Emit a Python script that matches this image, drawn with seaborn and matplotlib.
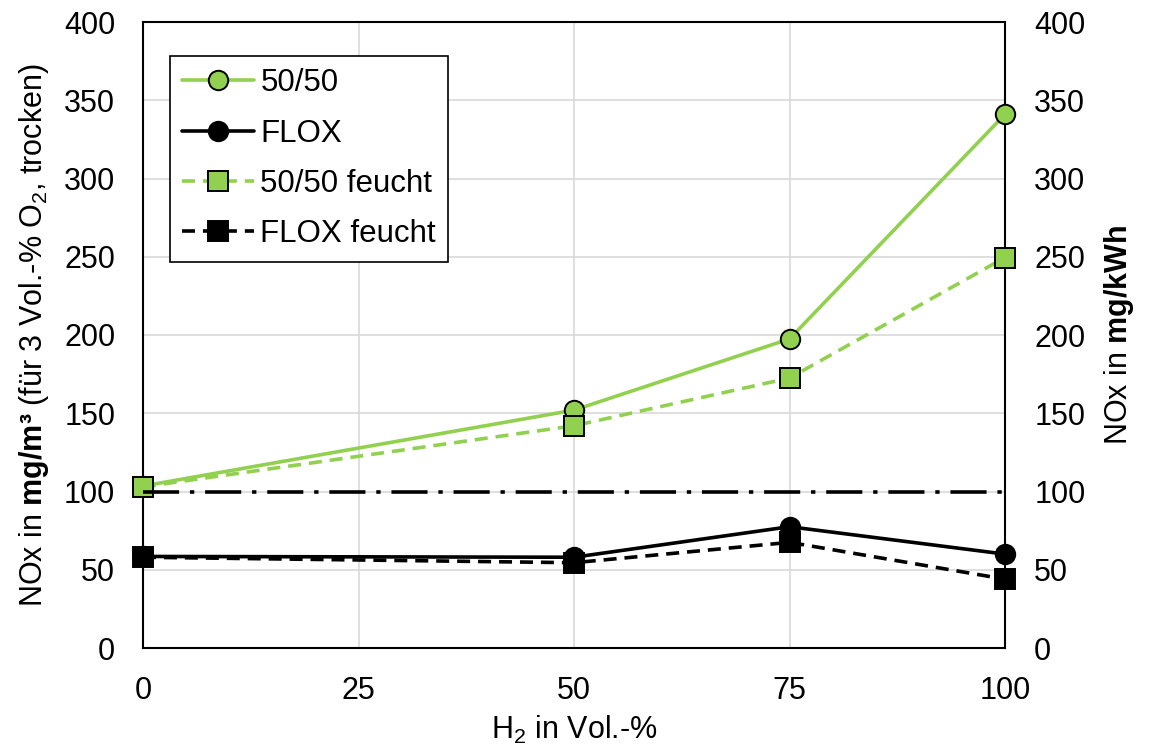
import pandas as pd
import seaborn as sns
import matplotlib.pyplot as plt

# H2 share (Vol.-%) and NOx values
h2 = [0, 50, 75, 100]
nox_5050 = [103.5, 152, 197.5, 341]
nox_flox = [58.5, 58, 77.5, 60]
nox_5050_feucht = [103, 142, 172.5, 249.5]
nox_flox_feucht = [58, 54.5, 67.5, 44]

# limit line on the mg/kWh axis
limit_x = [0, 100]
limit_kwh = [100, 100]

y_ticks = [0, 50, 100, 150, 200, 250, 300, 350, 400]
x_ticks = [0, 25, 50, 75, 100]

green = '#92D050'

sns.set_theme(style='white')
plt.rcParams['font.family'] = ['Liberation Sans', 'DejaVu Sans']
plt.rcParams['text.color'] = 'black'
plt.rcParams['mathtext.fontset'] = 'custom'
plt.rcParams['mathtext.rm'] = 'Liberation Sans'
plt.rcParams['mathtext.bf'] = 'Liberation Sans:bold'
plt.rcParams['mathtext.it'] = 'Liberation Sans:italic'

fs = 22

fig = plt.figure(figsize=(11.55, 7.48), dpi=100)
ax = fig.add_axes([143 / 1155, 1 - 648 / 748, (1005 - 143) / 1155, (648 - 22) / 748])

lw = 2.6
dashed = (0, (3.6, 2.2))
series = [
    ('50/50', nox_5050, green, 'o', '-'),
    ('FLOX', nox_flox, 'black', 'o', '-'),
    ('50/50 feucht', nox_5050_feucht, green, 's', dashed),
    ('FLOX feucht', nox_flox_feucht, 'black', 's', dashed),
]
for label, vals, col, mk, ls in series:
    df = pd.DataFrame({'h2': h2, 'nox': vals})
    sns.lineplot(data=df, x='h2', y='nox', ax=ax, color=col, marker=mk,
                 linestyle=ls, linewidth=lw, markersize=14,
                 markeredgecolor='black', markeredgewidth=1.4,
                 markerfacecolor=col, clip_on=False, label=label, zorder=3)

ax.set_xlim(0, 100)
ax.set_ylim(0, 400)
ax.set_xticks(x_ticks)
ax.set_yticks(y_ticks)
ax.grid(True, color='#D9D9D9', linewidth=1.2)
ax.tick_params(axis='both', length=0, labelsize=fs, labelcolor='black')
ax.tick_params(axis='y', pad=20)
ax.tick_params(axis='x', pad=20)
for sp in ax.spines.values():
    sp.set_visible(True)
    sp.set_color('black')
    sp.set_linewidth(1.5)

ax.set_xlabel('H$_2$ in Vol.-%', fontsize=fs, color='black', labelpad=6)
ax.set_ylabel(r'NOx in $\mathbf{mg/m³}$ (für 3 Vol.-% O$_2$, trocken)',
              fontsize=fs, color='black', labelpad=9)

leg = ax.legend(loc='upper left', bbox_to_anchor=(0.031, 0.946), borderaxespad=0,
                fontsize=22.5, frameon=True, fancybox=False, framealpha=1,
                edgecolor='black', handlelength=2.3, handletextpad=0.2,
                labelspacing=0.65, borderpad=0.4)
leg.get_frame().set_linewidth(1.2)
for t in leg.get_texts():
    t.set_color('black')

ax2 = ax.twinx()
sns.lineplot(x=limit_x, y=limit_kwh, ax=ax2, color='black', linewidth=lw,
             linestyle=(0, (10, 3, 1.2, 3)), zorder=2)
ax2.set_ylim(0, 400)
ax2.set_yticks(y_ticks)
ax2.grid(False)
ax2.tick_params(axis='y', length=0, labelsize=fs, pad=21, labelcolor='black')
for sp in ax2.spines.values():
    sp.set_visible(False)
ax2.set_ylabel(r'NOx in $\mathbf{mg/kWh}$', fontsize=fs, color='black', labelpad=12)

fig.savefig('out.png', dpi=100)
